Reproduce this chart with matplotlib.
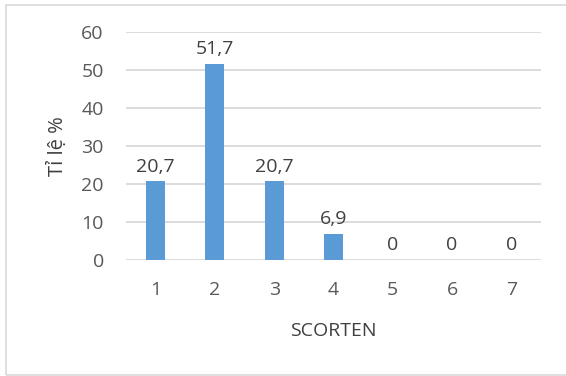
import matplotlib
matplotlib.use("Agg")
import matplotlib.pyplot as plt
from matplotlib.patches import Rectangle

plt.rcParams['font.family'] = ['Open Sans', 'DejaVu Sans']

# SCORTEN score distribution
scores = ['1', '2', '3', '4', '5', '6', '7']
rates = [20.7, 51.7, 20.7, 6.9, 0, 0, 0]
rate_labels = ['20,7', '51,7', '20,7', '6,9', '0', '0', '0']
yticks = [0, 10, 20, 30, 40, 50, 60]

text_gray = '#595959'
grid_gray = '#d9d9d9'
bar_blue = '#5b9bd5'

W, H = 566, 376
fig = plt.figure(figsize=(W / 100, H / 100), dpi=100)
# chart frame (right edge runs off the image)
fig.patches.append(Rectangle((5.5 / W, 1.0 / H), 1.02, 1 - 5.5 / H,
                             transform=fig.transFigure, fill=False,
                             edgecolor='#d9d9d9', linewidth=1.2))

ax = fig.add_axes([126 / W, 1 - 260 / H, 415 / W, 228 / H])
x = list(range(len(scores)))
ax.bar(x, rates, width=0.32, color=bar_blue, zorder=3)

for xi, v, lab in zip(x, rates, rate_labels):
    ax.annotate(lab, (xi, v), xytext=(0, 4), textcoords='offset points',
                ha='center', va='bottom', fontsize=14, color='#404040')

ax.set_xlim(-0.5, len(scores) - 0.5)
ax.set_ylim(0, 60)
ax.set_yticks(yticks)
ax.set_xticks(x)
ax.set_xticklabels(scores)
ax.yaxis.grid(True, color=grid_gray, linewidth=1.3, zorder=0)
ax.set_axisbelow(True)
for s in ax.spines.values():
    s.set_visible(False)
ax.tick_params(axis='both', length=0, labelsize=14, colors=text_gray)
ax.tick_params(axis='y', pad=16)
ax.tick_params(axis='x', pad=15)

ax.set_xlabel('SCORTEN', fontsize=14, color='#404040', labelpad=17)
ax.set_ylabel('Tỉ lệ %', fontsize=14.5, color='#404040', labelpad=10)

fig.savefig('out.png', dpi=100)
